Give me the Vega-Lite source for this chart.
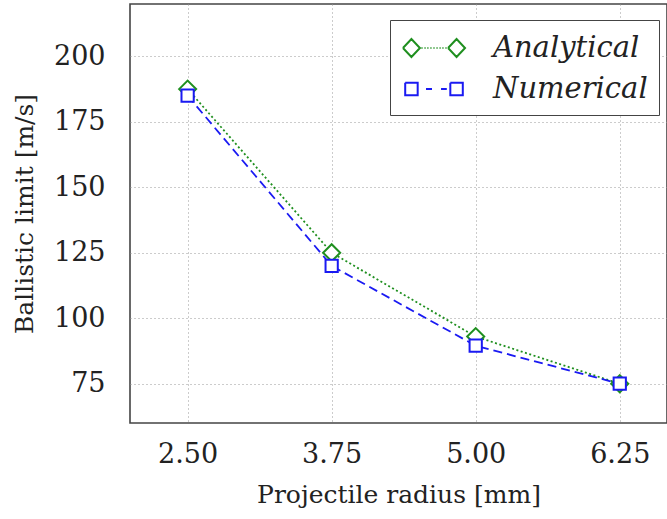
{
  "$schema": "https://vega.github.io/schema/vega-lite/v6.json",
  "width": 537,
  "height": 419,
  "autosize": "none",
  "padding": {"left": 130, "top": 4, "right": 0, "bottom": 96},
  "background": "white",
  "config": {
    "font": "DejaVu Serif",
    "view": {"stroke": "#444444", "strokeWidth": 1.6},
    "axis": {
      "domain": false,
      "ticks": false,
      "grid": true,
      "gridColor": "#999999",
      "gridDash": [1, 3],
      "gridWidth": 1,
      "labelFont": "DejaVu Serif",
      "labelFontSize": 27,
      "labelColor": "#222222",
      "titleFont": "DejaVu Serif",
      "titleFontSize": 25,
      "titleFontWeight": "normal",
      "titleColor": "#222222"
    },
    "legend": {
      "labelFont": "DejaVu Serif"
    }
  },
  "data": {
    "values": [
      {"r": 2.5, "v": 187.5, "series": "Analytical"},
      {"r": 3.75, "v": 125, "series": "Analytical"},
      {"r": 5.0, "v": 93, "series": "Analytical"},
      {"r": 6.25, "v": 75, "series": "Analytical"},
      {"r": 2.5, "v": 185, "series": "Numerical"},
      {"r": 3.75, "v": 120, "series": "Numerical"},
      {"r": 5.0, "v": 89.5, "series": "Numerical"},
      {"r": 6.25, "v": 75, "series": "Numerical"}
    ]
  },
  "encoding": {
    "x": {
      "field": "r",
      "type": "quantitative",
      "scale": {"domain": [2.0, 6.66], "nice": false, "zero": false},
      "axis": {"values": [2.5, 3.75, 5.0, 6.25], "format": ".2f", "labelPadding": 18, "titlePadding": 15, "title": "Projectile radius [mm]"}
    },
    "y": {
      "field": "v",
      "type": "quantitative",
      "scale": {"domain": [60, 220], "nice": false, "zero": false},
      "axis": {"values": [75, 100, 125, 150, 175, 200], "format": "d", "labelPadding": 25, "titlePadding": 16, "title": "Ballistic limit [m/s]"}
    }
  },
  "layer": [
    {
      "transform": [{"filter": "datum.series === 'Analytical'"}],
      "mark": {"type": "line", "strokeWidth": 1.8, "strokeDash": [2, 2.5]},
      "encoding": {
        "color": {
          "field": "series",
          "type": "nominal",
          "scale": {"domain": ["Analytical", "Numerical"], "range": ["#1f8f1f", "#1a1af2"]},
          "legend": {
            "title": null,
            "orient": "none",
            "legendX": 260,
            "legendY": 16,
            "padding": 11,
            "rowPadding": 9,
            "fillColor": "white",
            "strokeColor": "#444444",
            "labelFont": "DejaVu Serif",
            "labelFontStyle": "italic",
            "labelFontSize": 29,
            "labelColor": "#222222",
            "labelOffset": 42,
            "symbolOffset": 16,
            "symbolSize": 1024,
            "symbolStrokeWidth": 2,
            "symbolDash": [1000, 0],
            "encode": {
              "symbols": {
                "update": {
                  "shape": {"signal": "datum.value === 'Analytical' ? 'M -1.94,0 L -1.41,-0.56 L -0.88,0 L -1.41,0.56 Z M 0.88,0 L 1.41,-0.56 L 1.94,0 L 1.41,0.56 Z M -0.78,0 L -0.72,0 M -0.59,0 L -0.53,0 M -0.41,0 L -0.35,0 M -0.22,0 L -0.16,0 M -0.03,0 L 0.03,0 M 0.16,0 L 0.22,0 M 0.35,0 L 0.41,0 M 0.53,0 L 0.59,0 M 0.72,0 L 0.78,0' : 'M -1.8,-0.39 L -1.02,-0.39 L -1.02,0.39 L -1.8,0.39 Z M 1.02,-0.39 L 1.8,-0.39 L 1.8,0.39 L 1.02,0.39 Z M -0.5,0 L -0.125,0 M 0.44,0 L 0.8,0'"},
                  "fill": {"value": "transparent"},
                  "strokeWidth": {"value": 2},
                  "strokeDash": {"value": [1000, 0]}
                }
              }
            }
          }
        }
      }
    },
    {
      "transform": [{"filter": "datum.series === 'Numerical'"}],
      "mark": {"type": "line", "strokeWidth": 1.8, "strokeDash": [9, 5]},
      "encoding": {
        "color": {"field": "series", "type": "nominal"}
      }
    },
    {
      "transform": [{"filter": "datum.series === 'Analytical'"}],
      "mark": {"type": "point", "shape": "diamond", "size": 290, "filled": false, "fill": "white", "fillOpacity": 1, "strokeWidth": 2, "opacity": 1},
      "encoding": {
        "color": {"field": "series", "type": "nominal"}
      }
    },
    {
      "transform": [{"filter": "datum.series === 'Numerical'"}],
      "mark": {"type": "point", "shape": "square", "size": 150, "filled": false, "fill": "white", "fillOpacity": 1, "strokeWidth": 2, "opacity": 1},
      "encoding": {
        "color": {"field": "series", "type": "nominal"}
      }
    }
  ]
}
